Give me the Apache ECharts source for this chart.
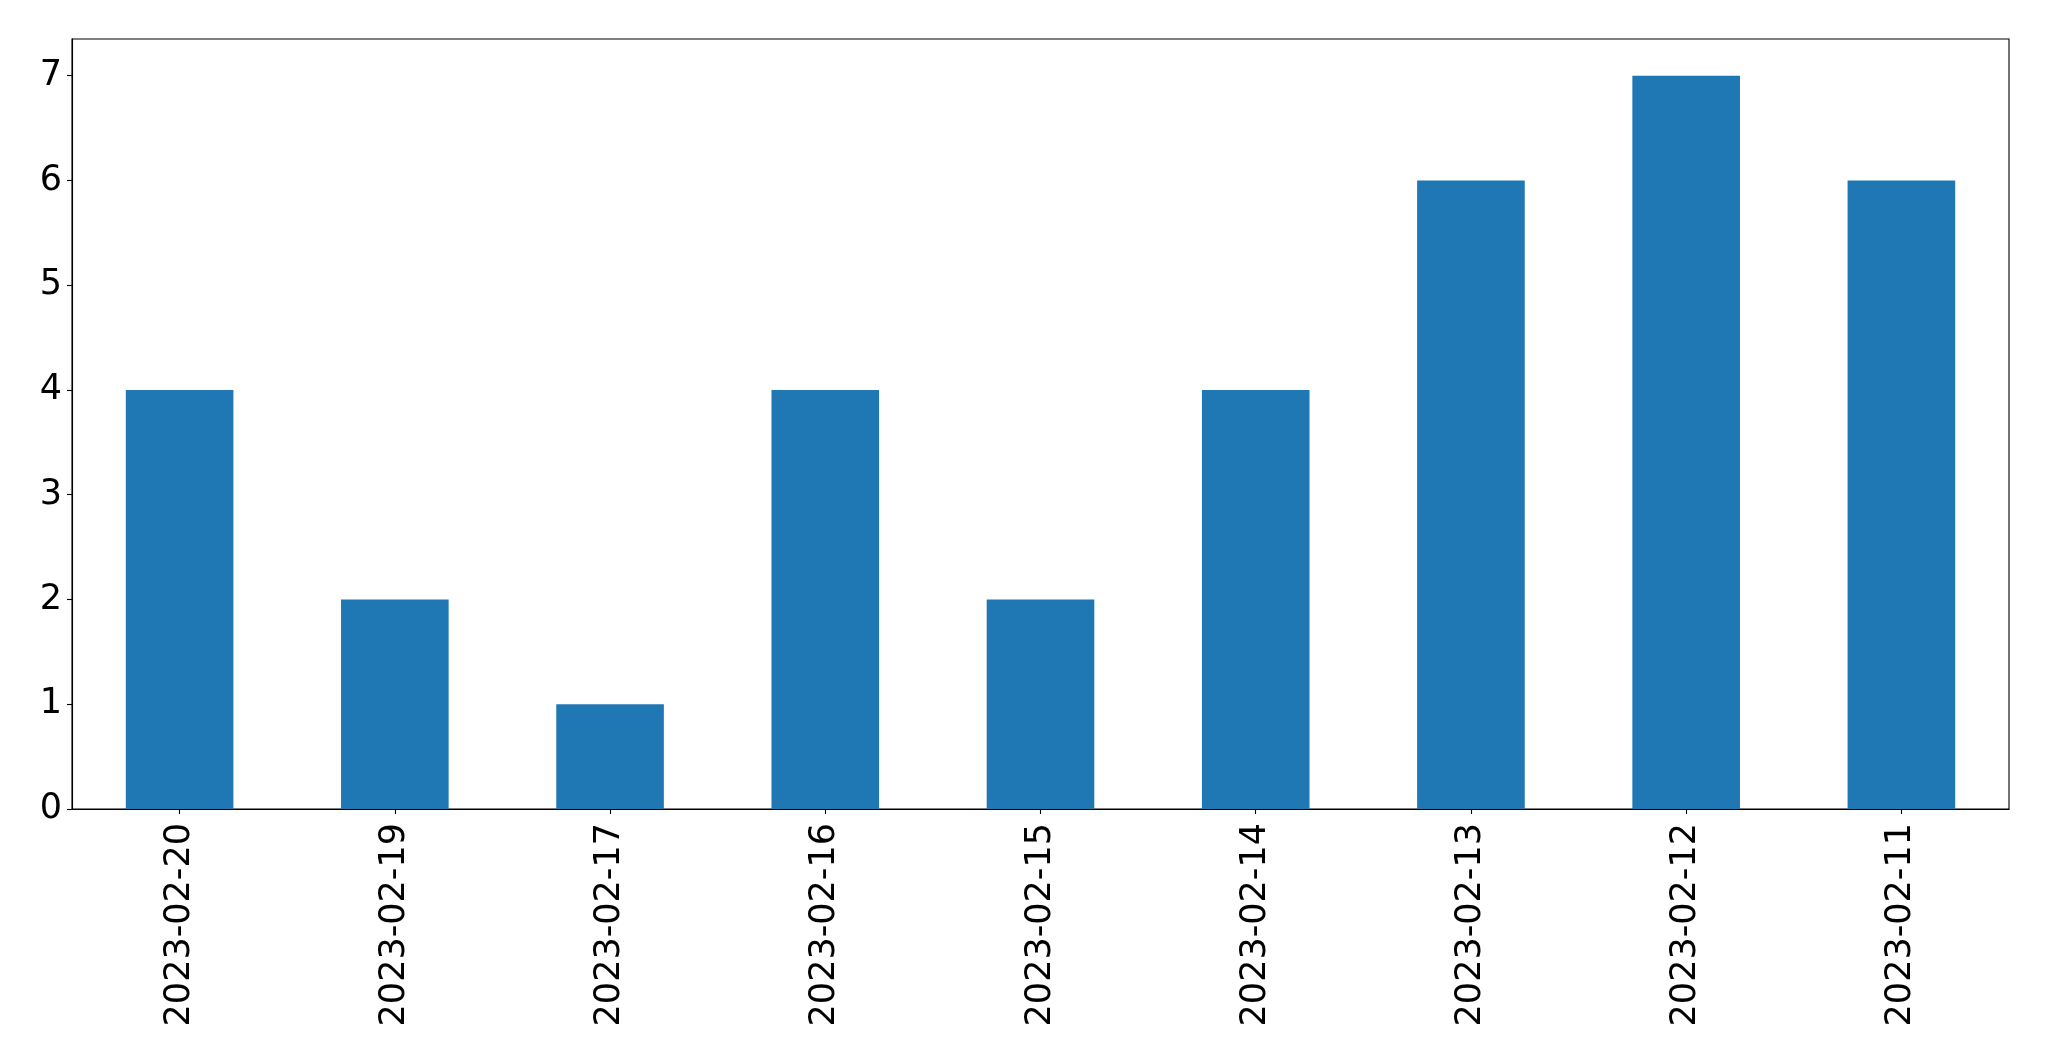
<!DOCTYPE html>
<html>
<head>
<meta charset="utf-8">
<script src="https://cdn.jsdelivr.net/npm/echarts@6/dist/echarts.min.js"></script>
<style>html,body{margin:0;padding:0;background:#fff}#c{width:2049px;height:1061px}</style>
</head>
<body>
<div id="c"></div>
<script>
const categories = ["2023-02-20","2023-02-19","2023-02-17","2023-02-16","2023-02-15","2023-02-14","2023-02-13","2023-02-12","2023-02-11"];
const values = [4,2,1,4,2,4,6,7,6];
const yTicks = [0,1,2,3,4,5,6,7];

const chart = echarts.init(document.getElementById('c'), null, {renderer:'canvas'});
const font = 'DejaVu Sans';
chart.setOption({
  animation: false,
  backgroundColor: '#fff',
  grid: {left: 72, right: 40, top: 39, bottom: 252, show: true, borderColor: '#000', borderWidth: 1.1, containLabel: false},
  xAxis: {
    type: 'category',
    data: categories,
    boundaryGap: true,
    axisLine: {show: true, lineStyle: {color: '#000', width: 1.1}},
    axisTick: {show: true, alignWithLabel: true, length: 5, lineStyle: {color: '#000', width: 1.1}},
    axisLabel: {rotate: 90, fontSize: 35, fontFamily: font, color: '#000', margin: 14, interval: 0},
    splitLine: {show: false}
  },
  yAxis: {
    type: 'value',
    min: 0,
    max: 7.35,
    interval: 1,
    axisLine: {show: true, lineStyle: {color: '#000', width: 1.1}},
    axisTick: {show: true, length: 5, lineStyle: {color: '#000', width: 1.1}, customValues: yTicks},
    axisLabel: {fontSize: 35, fontFamily: font, color: '#000', margin: 10, customValues: yTicks},
    splitLine: {show: false}
  },
  series: [{
    type: 'bar',
    data: values,
    barWidth: '50%',
    itemStyle: {color: '#1f77b4'}
  }]
});
</script>
</body>
</html>
